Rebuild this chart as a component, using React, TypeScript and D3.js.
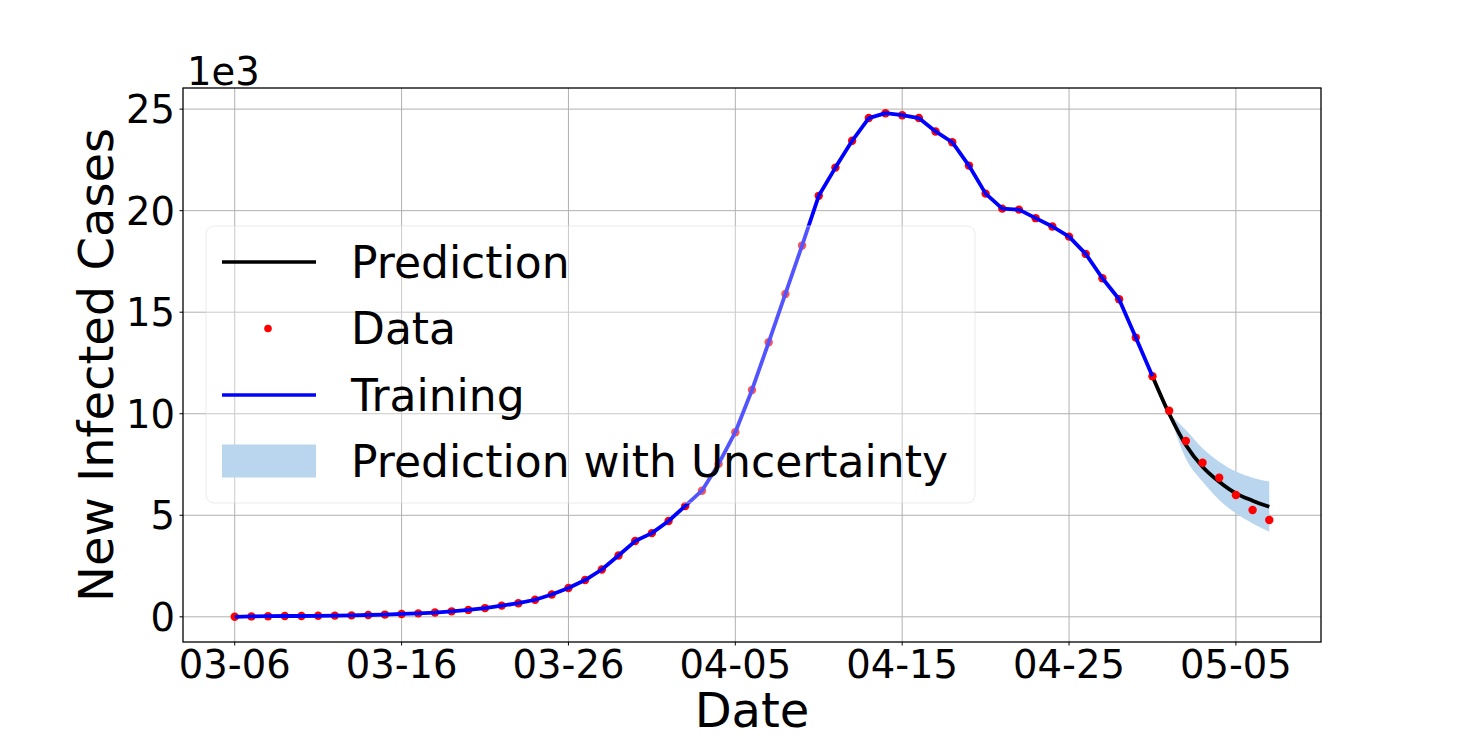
import React from 'react';
import * as d3 from 'd3';

// daily reported new cases, 03-06 .. 05-07
const observed = [
  0, 20, 30, 40, 40, 50, 60, 70, 90, 110,
  140, 170, 210, 270, 340, 430, 550, 670, 840, 1100,
  1420, 1810, 2330, 3020, 3730, 4120, 4720, 5460, 6210, 7530,
  9090, 11170, 13520, 15900, 18280, 20730, 22120, 23440, 24560, 24800,
  24700, 24560, 23900, 23370, 22220, 20840, 20100, 20050, 19630, 19220,
  18720, 17870, 16670, 15640, 13750, 11850, 10150, 8660, 7590, 6850,
  6000, 5260, 4770,
];

// fitted model over the training window (index 0..55)
const trainingEnd = 55;

// prediction from index 55 onward
const prediction = [11850, 10000, 8460, 7390, 6650, 6080, 5720, 5420];
// uncertainty band from index 56 onward
const bandUpper = [10000, 9200, 8300, 7640, 7150, 6850, 6660];
const bandLower = [10000, 7800, 6660, 5750, 5100, 4600, 4190];

const xTickLabels = ['03-06', '03-16', '03-26', '04-05', '04-15', '04-25', '05-05'];
const yTicks = [0, 5000, 10000, 15000, 20000, 25000];

const startDate = new Date(2020, 2, 6);

const FONT = '"DejaVu Sans", sans-serif';

const App: React.FC = () => {
  const width = 1462;
  const height = 749;
  const plot = { left: 183, right: 1321, top: 88, bottom: 642 };

  const dates = observed.map((_, i) => d3.timeDay.offset(startDate, i));
  const lastDate = dates[dates.length - 1];
  const pad = (observed.length - 1) * 0.05;

  const x = d3
    .scaleTime()
    .domain([
      new Date(startDate.getTime() - pad * 864e5),
      new Date(lastDate.getTime() + pad * 864e5),
    ])
    .range([plot.left, plot.right]);

  const y = d3.scaleLinear().domain([-1240, 26040]).range([plot.bottom, plot.top]);

  const xTicks = xTickLabels.map((_, i) => d3.timeDay.offset(startDate, i * 10));

  const line = d3
    .line<[Date, number]>()
    .x(d => x(d[0]))
    .y(d => y(d[1]));

  const smooth = d3
    .line<[Date, number]>()
    .x(d => x(d[0]))
    .y(d => y(d[1]))
    .curve(d3.curveMonotoneX);

  const trainingPts: [Date, number][] = observed
    .slice(0, trainingEnd + 1)
    .map((v, i) => [dates[i], v]);
  const predPts: [Date, number][] = prediction.map((v, i) => [dates[trainingEnd + i], v]);

  const area = d3
    .area<number>()
    .x((_, i) => x(dates[trainingEnd + 1 + i]))
    .y0((_, i) => y(bandLower[i]))
    .y1(d => y(d))
    .curve(d3.curveMonotoneX);

  const legend = { x: 206, y: 226, w: 769, h: 277 };
  const rows = [262, 328.5, 395, 461];

  return (
    <svg
      width={width}
      height={height}
      style={{ position: 'absolute', left: 0, top: 0, background: '#fff' }}
      fontFamily={FONT}
    >
      <rect width={width} height={height} fill="#fff" />

      {/* grid */}
      <g stroke="#b0b0b0" strokeWidth={1}>
        {xTicks.map((d, i) => (
          <line key={'gx' + i} x1={x(d)} x2={x(d)} y1={plot.top} y2={plot.bottom} />
        ))}
        {yTicks.map(v => (
          <line key={'gy' + v} x1={plot.left} x2={plot.right} y1={y(v)} y2={y(v)} />
        ))}
      </g>

      {/* uncertainty band */}
      <path d={area(bandUpper) || ''} fill="#bad6ee" stroke="none" />

      {/* prediction */}
      <path d={smooth(predPts) || ''} fill="none" stroke="#000" strokeWidth={3.8} />

      {/* data */}
      {observed.map((v, i) => (
        <circle key={'d' + i} cx={x(dates[i])} cy={y(v)} r={4.2} fill="#ff0000" />
      ))}

      {/* training */}
      <path
        d={line(trainingPts) || ''}
        fill="none"
        stroke="#0000ff"
        strokeWidth={3.8}
        strokeLinejoin="round"
      />

      {/* legend */}
      <rect
        x={legend.x}
        y={legend.y}
        width={legend.w}
        height={legend.h}
        rx={8}
        fill="#fff"
        fillOpacity={0.33}
        stroke="#dddddd"
        strokeOpacity={0.6}
        strokeWidth={1}
      />
      <g fontSize={44} fill="#000">
        <line x1={222} x2={316} y1={rows[0]} y2={rows[0]} stroke="#000" strokeWidth={3.6} />
        <text x={351} y={rows[0]} dy="0.36em">Prediction</text>
        <circle cx={268} cy={rows[1]} r={3.8} fill="#ff0000" />
        <text x={351} y={rows[1]} dy="0.36em">Data</text>
        <line x1={222} x2={316} y1={rows[2]} y2={rows[2]} stroke="#0000ff" strokeWidth={3.6} />
        <text x={351} y={rows[2]} dy="0.36em">Training</text>
        <rect x={222} y={rows[3] - 16.5} width={94} height={33} fill="#bad6ee" />
        <text x={351} y={rows[3]} dy="0.36em">Prediction with Uncertainty</text>
      </g>

      {/* axes frame */}
      <rect
        x={plot.left}
        y={plot.top}
        width={plot.right - plot.left}
        height={plot.bottom - plot.top}
        fill="none"
        stroke="#000"
        strokeWidth={1.3}
      />

      {/* x ticks */}
      <g fontSize={38.5} textAnchor="middle">
        {xTicks.map((d, i) => (
          <g key={'xt' + i}>
            <line x1={x(d)} x2={x(d)} y1={plot.bottom} y2={plot.bottom + 3.5} stroke="#000" />
            <text x={x(d)} y={678}>{xTickLabels[i]}</text>
          </g>
        ))}
      </g>

      {/* y ticks */}
      <g fontSize={38.5} textAnchor="end">
        {yTicks.map(v => (
          <g key={'yt' + v}>
            <line x1={plot.left - 3.5} x2={plot.left} y1={y(v)} y2={y(v)} stroke="#000" />
            <text x={175} y={y(v)} dy="0.36em">{d3.format('d')(v / 1000)}</text>
          </g>
        ))}
      </g>

      <text x={187} y={85} fontSize={38.5}>1e3</text>

      <text x={(plot.left + plot.right) / 2} y={727} fontSize={48} textAnchor="middle">
        Date
      </text>
      <text
        transform={`translate(113,${(plot.top + plot.bottom) / 2}) rotate(-90)`}
        fontSize={48}
        textAnchor="middle"
      >
        New Infected Cases
      </text>
    </svg>
  );
};

export default App;
